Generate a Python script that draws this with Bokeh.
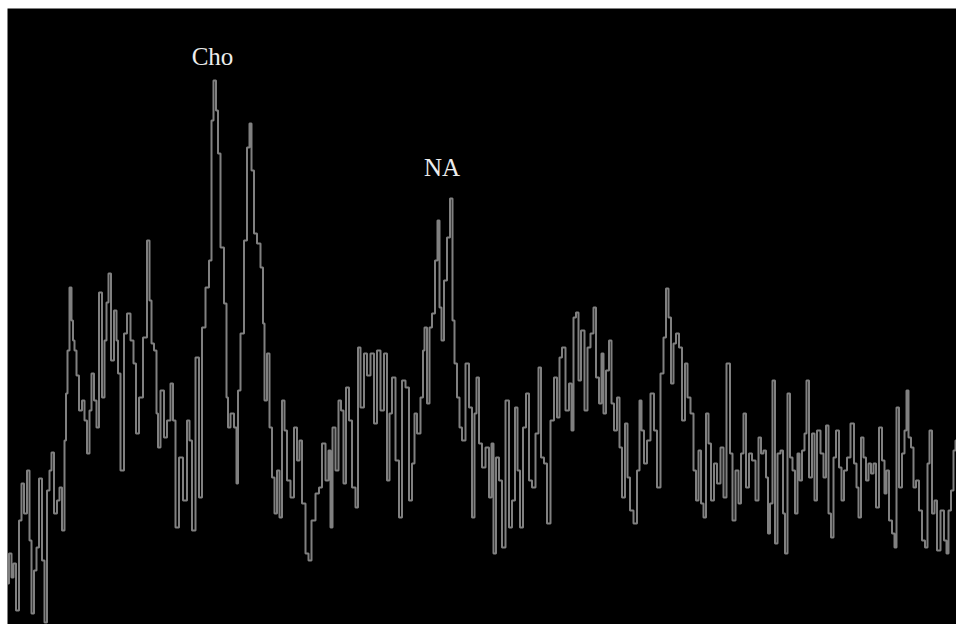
from bokeh.plotting import figure
from bokeh.models import Range1d
from bokeh.core.properties import value
from bokeh.embed import file_html
from bokeh.resources import INLINE

# Spectrum channel index and signal amplitude (arbitrary units)
channel = [0, 3, 5, 7, 10, 13, 15, 18, 21, 23, 25, 28, 30, 33, 36, 38, 41, 43, 45, 48, 51, 53, 56, 58, 59, 61, 63, 65, 66, 68, 70, 73, 76, 78, 81, 83, 85, 88, 90, 93, 96, 98, 100, 102, 105, 108, 110, 111, 115, 118, 121, 125, 127, 130, 133, 138, 141, 143, 145, 148, 150, 151, 155, 158, 161, 165, 166, 170, 173, 178, 181,
           183, 186, 190, 193, 196, 200, 203, 205, 207, 210, 211, 215, 218, 220, 221, 225, 228, 230, 231, 235, 238, 241, 243, 245, 248, 251, 255, 256, 258, 261, 263, 266, 268, 271, 273, 276, 278, 281, 285, 288, 291, 293, 296, 300, 302, 306, 310, 313, 316, 320, 322, 324, 326, 330, 332, 335, 337, 340, 343, 346, 350, 351, 355, 358, 361, 365,
           368, 371, 375, 378, 381, 383, 386, 390, 393, 396, 400, 403, 406, 408, 411, 415, 416, 418, 421, 423, 426, 429, 431, 433, 435, 438, 441, 444, 446, 448, 451, 453, 456, 460, 463, 466, 468, 470, 473, 476, 480, 483, 485, 487, 490, 493, 496, 500, 503, 506, 509, 511, 514, 517, 520, 523, 526, 530, 532, 535, 538, 541, 545, 548, 551, 553,
           556, 560, 563, 565, 567, 570, 572, 575, 579, 581, 585, 587, 590, 593, 595, 597, 600, 603, 605, 608, 611, 613, 616, 619, 621, 624, 628, 631, 633, 635, 638, 641, 645, 648, 651, 655, 657, 660, 662, 665, 667, 670, 673, 676, 679, 681, 685, 687, 690, 692, 695, 697, 700, 702, 705, 708, 711, 715, 717, 721, 724, 726, 730, 732, 735, 737, 740, 743,
           746, 750, 752, 755, 757, 760, 761, 764, 766, 769, 771, 775, 776, 779, 781, 784, 786, 789, 791, 793, 796, 798, 800, 803, 806, 808, 811, 815, 817, 820, 822, 825, 827, 830, 833, 835, 838, 841, 845, 848, 850, 852, 855, 857, 860, 862, 865, 867, 870, 873, 876, 878, 880, 883, 886, 888, 890, 893, 896, 898, 900, 902, 905, 907, 910, 913, 916, 919, 921, 923, 926, 928, 931, 935, 938, 940, 942, 945, 947, 949]

amplitude = [41, 71, 47, 61, 14, 104, 141, 111, 154, 84, 11, 54, 77, 146, 64, 2, 134, 154, 172, 111, 124, 137, 94, 184, 231, 274, 337, 304, 284, 274, 249, 214, 224, 204, 171, 214, 251, 224, 197, 332, 227, 284, 322, 351, 264, 314, 284, 251, 154, 291, 311, 284, 261, 191, 227, 287, 384, 324, 281, 274, 211, 177, 234, 187, 204, 241, 204, 97, 167, 124, 204,
             184, 94, 267, 127, 297, 337, 364, 504, 544, 514, 471, 377, 321, 227, 197, 211, 197, 141, 234, 291, 384, 477, 501, 454, 391, 381, 357, 301, 224, 271, 197, 147, 111, 154, 107, 224, 194, 144, 127, 197, 164, 184, 121, 71, 64, 104, 131, 137, 181, 144, 174, 97, 197, 154, 224, 214, 141, 237, 204, 137, 117, 277, 217, 271, 249, 271,
             201, 274, 214, 271, 144, 211, 247, 164, 107, 244, 237, 124, 161, 211, 191, 227, 274, 297, 221, 297, 311, 364, 404, 317, 284, 344, 387, 426, 304, 261, 227, 197, 184, 261, 217, 107, 211, 247, 181, 157, 177, 127, 181, 71, 167, 144, 77, 224, 97, 124, 217, 154, 97, 197, 231, 144, 137, 191, 257, 167, 161, 101, 204, 247, 207, 267,
             277, 214, 241, 194, 307, 312, 244, 294, 214, 277, 291, 317, 247, 221, 271, 211, 254, 284, 221, 194, 227, 177, 127, 201, 147, 114, 101, 154, 224, 194, 161, 184, 231, 194, 137, 251, 287, 336, 307, 241, 281, 291, 277, 204, 261, 227, 211, 154, 124, 174, 121, 107, 211, 181, 124, 161, 141, 177, 127, 261, 171, 104, 154, 121, 171, 211, 137, 171,
             164, 124, 187, 171, 174, 147, 91, 121, 244, 81, 171, 174, 111, 71, 231, 167, 154, 111, 171, 144, 174, 191, 244, 147, 191, 124, 194, 171, 147, 199, 111, 87, 167, 194, 157, 124, 154, 167, 201, 161, 137, 107, 187, 167, 144, 161, 151, 161, 117, 197, 164, 131, 154, 104, 91, 77, 217, 137, 171, 194, 234, 187, 177, 137, 144, 114, 84, 77, 161, 194, 111, 124, 74, 114, 84, 71, 114, 134, 174, 184]

# Peak labels
peak_names = ["Cho", "NA"]
peak_channel = [205, 434.5]
peak_label_level = [568, 457]

p = figure(width=956, height=624, output_backend="svg", toolbar_location=None,
           x_range=Range1d(0, 949), y_range=Range1d(0, 616),
           min_border=0, min_border_left=7, min_border_right=0,
           min_border_top=8, min_border_bottom=0)
p.background_fill_color = "black"
p.border_fill_color = "white"
p.outline_line_color = None
p.axis.visible = False
p.grid.visible = False

p.step(channel, amplitude, mode="center", line_color="#808080", line_width=2)

p.text(x=peak_channel, y=peak_label_level, text=peak_names,
       text_font=value("Liberation Serif"), text_font_size="25px",
       text_color="#ececec", text_align="center", text_baseline="alphabetic")

open("out.html", "w").write(file_html(p, INLINE))
